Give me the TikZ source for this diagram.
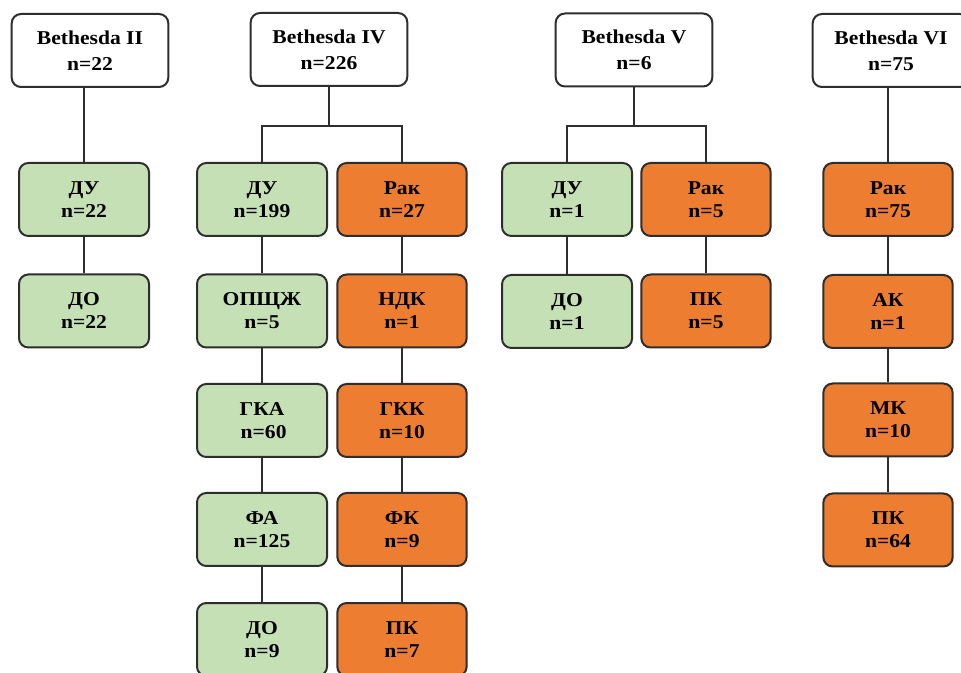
\documentclass[tikz,border=0pt]{standalone}
\usepackage{fontspec}
\setmainfont{Liberation Serif}[FakeStretch=1.1]
\definecolor{gr}{HTML}{C5E0B4}
\definecolor{orng}{HTML}{ED7D31}
\definecolor{ln}{HTML}{2E2E2E}
\begin{document}
\begin{tikzpicture}[x=0.75pt,y=-0.75pt,
  base/.style={draw=ln, line width=1.5pt, rounded corners=7pt, align=center, inner sep=0pt, minimum height=54.75pt},
  head/.style={base, fill=white, minimum width=117.5pt, font=\bfseries\fontsize{14.7}{19.5}\selectfont},
  gbox/.style={base, fill=gr, minimum width=97.5pt, font=\bfseries\fontsize{14.7}{17.25}\selectfont},
  obox/.style={base, fill=orng, minimum width=97pt, font=\bfseries\fontsize{14.7}{17.25}\selectfont},
  conn/.style={draw=ln, line width=1.5pt}]
\clip (0,0) rectangle (961,673);
\fill[white] (0,0) rectangle (961,673);
% headers
\node[head] (b2) at (90,50.5) {Bethesda II\\n=22};
\node[head] (b4) at (329,49.5) {Bethesda IV\\n=226};
\node[head] (b5) at (634,50) {Bethesda V\\n=6};
\node[head] (b6) at (891,50.5) {Bethesda VI\\n=75};
% Bethesda II
\node[gbox] (a1) at (84,199.5) {ДУ\\n=22};
\node[gbox] (a2) at (84,311) {ДО\\n=22};
% Bethesda IV
\node[gbox] (c1) at (262,199.5) {ДУ\\n=199};
\node[gbox] (c2) at (262,311) {ОПЩЖ\\n=5};
\node[gbox] (c3) at (262,420.5) {ГКА\\ \,n=60};
\node[gbox] (c4) at (262,529.5) {ФА\\n=125};
\node[gbox] (c5) at (262,639.5) {ДО\\n=9};
\node[obox] (d1) at (402,199.5) {Рак\\n=27};
\node[obox] (d2) at (402,311) {НДК\\n=1};
\node[obox] (d3) at (402,420.5) {ГКК\\n=10};
\node[obox] (d4) at (402,529.5) {ФК\\n=9};
\node[obox] (d5) at (402,639.5) {ПК\\n=7};
% Bethesda V
\node[gbox] (e1) at (567,199.5) {ДУ\\n=1};
\node[gbox] (e2) at (567,311.5) {ДО\\n=1};
\node[obox] (f1) at (706,199.5) {Рак\\n=5};
\node[obox] (f2) at (706,311) {ПК\\n=5};
% Bethesda VI
\node[obox] (g1) at (888,199.5) {Рак\\n=75};
\node[obox] (g2) at (888,311.5) {АК\\n=1};
\node[obox] (g3) at (888,420) {МК\\n=10};
\node[obox] (g4) at (888,530) {ПК\\n=64};
% junctions
\coordinate (j4) at (329,126);
\coordinate (j5) at (634,126);
% connectors
\draw[conn] (a1.north) -- (a1.north |- b2.south);
\draw[conn] (a1) -- (a2);
\draw[conn] (b4.south) -- (j4);
\draw[conn] (c1.north) |- (j4) -| (d1.north);
\draw[conn] (c1) -- (c2);
\draw[conn] (c2) -- (c3);
\draw[conn] (c3) -- (c4);
\draw[conn] (c4) -- (c5);
\draw[conn] (d1) -- (d2);
\draw[conn] (d2) -- (d3);
\draw[conn] (d3) -- (d4);
\draw[conn] (d4) -- (d5);
\draw[conn] (b5.south) -- (j5);
\draw[conn] (e1.north) |- (j5) -| (f1.north);
\draw[conn] (e1) -- (e2);
\draw[conn] (f1) -- (f2);
\draw[conn] (g1.north) -- (g1.north |- b6.south);
\draw[conn] (g1) -- (g2);
\draw[conn] (g2) -- (g3);
\draw[conn] (g3) -- (g4);
\end{tikzpicture}
\end{document}
